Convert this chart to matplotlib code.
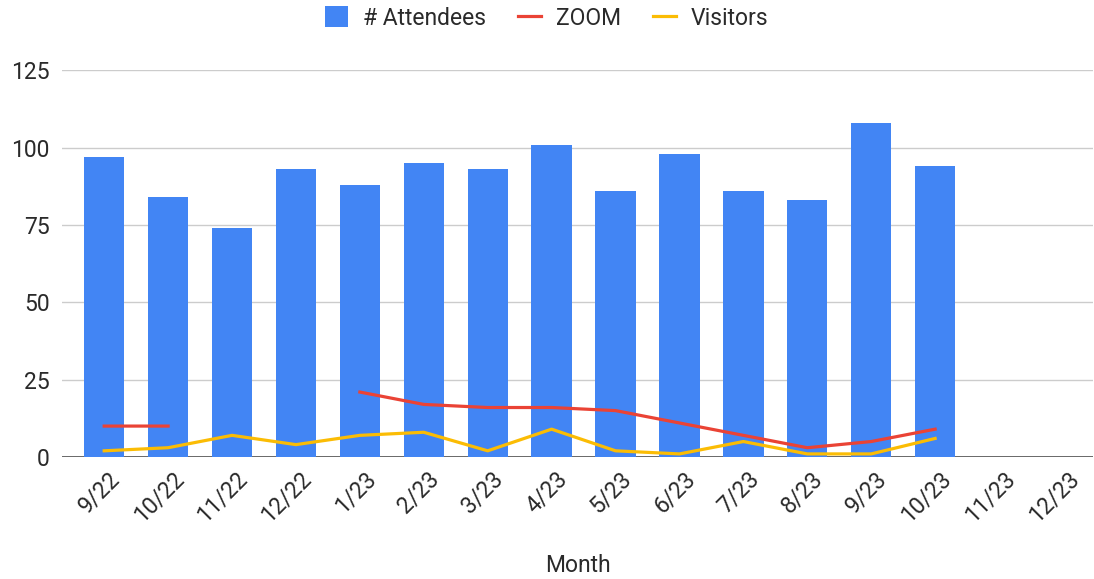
import matplotlib.pyplot as plt
import matplotlib.transforms as mtransforms
import numpy as np

plt.rcParams['font.family'] = ['Roboto', 'DejaVu Sans']

months = ['9/22', '10/22', '11/22', '12/22', '1/23', '2/23', '3/23', '4/23',
          '5/23', '6/23', '7/23', '8/23', '9/23', '10/23', '11/23', '12/23']
attendees = [97, 84, 74, 93, 88, 95, 93, 101, 86, 98, 86, 83, 108, 94, np.nan, np.nan]
zoom = [10, 10, np.nan, np.nan, 21, 17, 16, 16, 15, 11, 7, 3, 5, 9, np.nan, np.nan]
visitors = [2, 3, 7, 4, 7, 8, 2, 9, 2, 1, 5, 1, 1, 6, np.nan, np.nan]

fs = 16.5
txt = '#2a2a2a'

fig = plt.figure(figsize=(10.94, 5.79), dpi=100)
ax = fig.add_axes([62 / 1094, 122 / 579, 1031 / 1094, 386.6 / 579])

x = np.arange(len(months))
ax.bar(x, attendees, width=0.63, color='#4285F4', label='# Attendees', zorder=2)
ax.plot(x, zoom, color='#EA4335', lw=2.3, label='ZOOM', zorder=3)
ax.plot(x, visitors, color='#FBBC04', lw=2.3, label='Visitors', zorder=3)

ax.set_xlim(-0.66, 15.47)
ax.set_ylim(0, 125)
ax.set_yticks([0, 25, 50, 75, 100, 125])
ax.grid(axis='y', color='#cccccc', lw=1, zorder=0)
ax.axhline(0, color='#333333', lw=1.2, zorder=1)
for s in ax.spines.values():
    s.set_visible(False)
ax.tick_params(axis='both', length=0, labelsize=fs, colors=txt)
ax.tick_params(axis='y', pad=9)
ax.set_xticks(x)
ax.set_xticklabels(months, rotation=45, ha='right', va='center', rotation_mode='anchor')
ax.tick_params(axis='x', pad=13)
# nudge rotated labels to the right like the original
shift = mtransforms.ScaledTranslation(12 / 100, 0, fig.dpi_scale_trans)
for lab in ax.get_xticklabels():
    lab.set_transform(lab.get_transform() + shift)
ax.set_xlabel('Month', fontsize=fs, color=txt, labelpad=20)

handles, labels = ax.get_legend_handles_labels()
order = [2, 0, 1]
fig.legend([handles[i] for i in order], [labels[i] for i in order],
           loc='center', bbox_to_anchor=(0.5, 1 - 18 / 579), ncol=3, frameon=False,
           fontsize=fs, handlelength=1.0, handleheight=1.0, columnspacing=1.4,
           handletextpad=0.65, labelcolor=txt)

fig.savefig('out.png', dpi=100)
